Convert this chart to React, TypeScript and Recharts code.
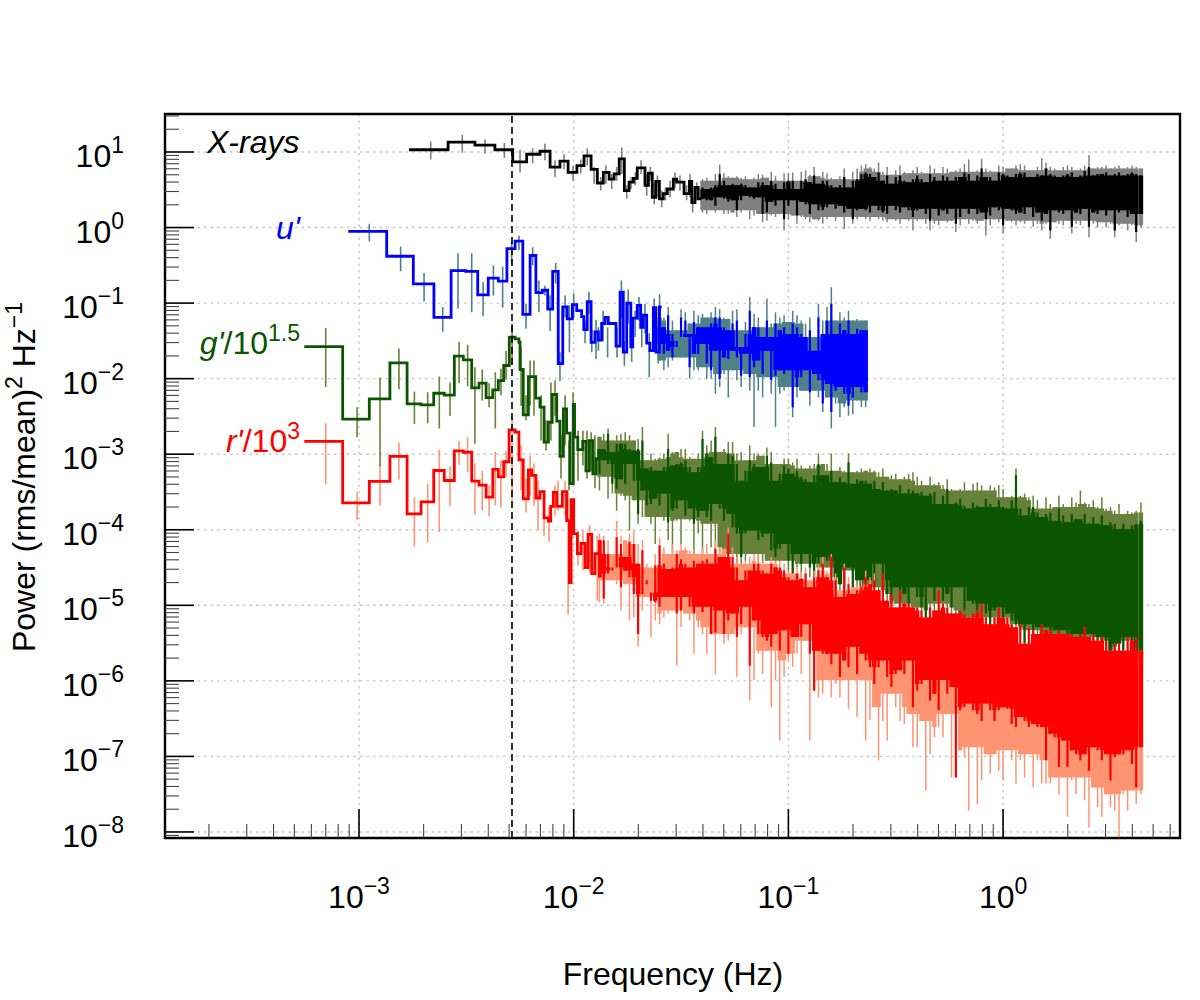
import React from 'react';
import { ComposedChart, XAxis, YAxis, Line, CartesianGrid, ReferenceLine, ReferenceArea } from 'recharts';

// All values below are log10(frequency / Hz) and log10(power).
const xDomainLog = [-3.9036, 0.824];
const yDomainLog = [-8.08, 1.503];
const xMajor = [-3, -2, -1, 0];
const yMajor = [1, 0, -1, -2, -3, -4, -5, -6, -7, -8];
const minorFactors = [2, 3, 4, 5, 6, 7, 8, 9];
const xDecades = [-4, -3, -2, -1, 0];
const yDecades = [1, 0, -1, -2, -3, -4, -5, -6, -7, -8, -9];
const markerLogF = -2.2874;

const gridF = [-1.88,-1.86,-1.84,-1.82,-1.80,-1.78,-1.76,-1.74,-1.72,-1.70,-1.68,-1.66,-1.64,-1.62,-1.60,-1.58,-1.56,-1.54,-1.52,-1.50,-1.48,-1.46,-1.44,-1.42,-1.40,-1.38,-1.36,-1.34,-1.32,-1.30,-1.28,-1.26,-1.24,-1.22,-1.20,-1.18,-1.16,-1.14,-1.12,-1.10,-1.08,-1.06,-1.04,-1.02,-1.00,-0.98,-0.96,-0.94,-0.92,-0.90,-0.88,-0.86,-0.84,-0.82,-0.80,-0.78,-0.76,-0.74,-0.72,-0.70,-0.68,-0.66,-0.64,-0.62,-0.60,-0.58,-0.56,-0.54,-0.52,-0.50,-0.48,-0.46,-0.44,-0.42,-0.40,-0.38,-0.36,-0.34,-0.32,-0.30,-0.28,-0.26,-0.24,-0.22,-0.20,-0.18,-0.16,-0.14,-0.12,-0.10,-0.08,-0.06,-0.04,-0.02,0.00,0.02,0.04,0.06,0.08,0.10,0.12,0.14,0.16,0.18,0.20,0.22,0.24,0.26,0.28,0.30,0.32,0.34,0.36,0.38,0.40,0.42,0.44,0.46,0.48,0.50,0.52,0.54,0.56,0.58,0.60,0.62,0.642];

// X-rays
const xrayStepF = [-2.767,-2.585,-2.460,-2.367,-2.284,-2.219,-2.157,-2.110,-2.064,-2.026,-1.985,-1.952,-1.919,-1.890,-1.862,-1.835,-1.812,-1.788,-1.764,-1.742,-1.722,-1.704,-1.668,-1.652,-1.634,-1.618,-1.601,-1.583,-1.564,-1.536,-1.520,-1.486,-1.461,-1.450,-1.435,-1.420,-1.405];
const xrayStepP = [1.03,1.13,1.09,1.03,0.87,0.97,1.01,0.80,0.88,0.73,0.82,0.95,0.77,0.59,0.73,0.64,0.71,0.91,0.49,0.60,0.65,0.79,0.56,0.72,0.40,0.61,0.38,0.45,0.51,0.64,0.60,0.45,0.61,0.33,0.53,0.38,0.38];
const xrayErrF = [-2.666,-2.519,-2.413,-2.323,-2.250,-2.191,-2.134,-2.087,-2.045,-2.003,-1.967,-1.937,-1.905,-1.874,-1.850,-1.823,-1.800,-1.776,-1.753,-1.733,-1.713,-1.686,-1.660,-1.643,-1.625,-1.610,-1.590,-1.573,-1.551,-1.528,-1.505,-1.474,-1.458,-1.446,-1.427];
const xrayErrHi = [1.14,1.23,1.17,1.12,1.03,1.05,1.11,0.89,0.97,0.82,0.90,1.05,0.80,0.67,0.82,0.71,0.80,1.06,0.56,0.67,0.73,0.89,0.71,0.80,0.58,0.69,0.49,0.53,0.62,0.73,0.69,0.56,0.71,0.40,0.60];
const xrayErrLo = [0.90,0.99,0.98,0.92,0.73,0.85,0.89,0.67,0.77,0.62,0.72,0.82,0.58,0.49,0.58,0.51,0.62,0.71,0.38,0.51,0.56,0.71,0.42,0.62,0.31,0.40,0.27,0.36,0.40,0.53,0.49,0.36,0.40,0.20,0.36];
const xrayLineHi = [0.53,0.51,0.53,0.56,0.71,0.62,0.56,0.58,0.56,0.58,0.56,0.53,0.53,0.60,0.60,0.56,0.62,0.58,0.51,0.60,0.62,0.62,0.51,0.62,0.64,0.60,0.69,0.58,0.62,0.62,0.56,0.53,0.56,0.67,0.53,0.62,0.64,0.71,0.73,0.71,0.67,0.73,0.62,0.69,0.58,0.67,0.69,0.62,0.60,0.64,0.69,0.64,0.60,0.71,0.67,0.62,0.69,0.67,0.62,0.67,0.67,0.73,0.71,0.62,0.69,0.78,0.67,0.67,0.62,0.73,0.71,0.69,0.67,0.71,0.73,0.73,0.67,0.67,0.71,0.69,0.78,0.71,0.69,0.67,0.69,0.71,0.73,0.67,0.69,0.75,0.80,0.69,0.71,0.71,0.73,0.69,0.71,0.73,0.69,0.71,0.73,0.71,0.69];
const xrayDenseErrHi = [0.64,0.66,0.62,0.71,0.83,0.72,0.68,0.66,0.68,0.66,0.68,0.64,0.66,0.71,0.70,0.66,0.74,0.68,0.62,0.72,0.72,0.73,0.62,0.74,0.76,0.70,0.80,0.68,0.74,0.72,0.66,0.64,0.68,0.78,0.64,0.74,0.78,0.82,0.84,0.80,0.78,0.86,0.74,0.80,0.70,0.76,0.82,0.74,0.72,0.76,0.80,0.74,0.72,0.82,0.78,0.72,0.80,0.78,0.74,0.76,0.78,0.84,0.90,0.74,0.76,0.91,0.78,0.76,0.74,0.82,0.80,0.78,0.78,0.82,0.84,0.82,0.76,0.76,0.80,0.92,0.86,0.80,0.78,0.76,0.80,0.82,0.80,0.76,0.78,0.82,0.96,0.78,0.80,0.80,0.82,0.78,0.80,0.82,0.78,0.80,0.82,0.80,0.78];
const xrayLineLo = [0.38,0.36,0.36,0.29,0.40,0.38,0.34,0.36,0.23,0.36,0.42,0.40,0.38,0.40,0.18,0.20,0.34,0.29,0.36,0.11,0.29,0.36,0.16,0.34,0.31,0.18,0.31,0.23,0.23,0.27,0.31,0.25,0.29,0.20,0.25,0.11,0.23,0.25,0.23,0.20,0.29,0.23,0.20,0.18,0.29,0.23,0.20,0.27,0.23,0.14,0.23,0.25,0.18,0.09,0.25,0.16,0.23,0.18,0.25,0.05,0.14,0.25,0.18,0.25,0.18,0.20,0.11,0.16,0.27,0.23,0.03,0.25,0.23,0.18,0.20,0.18,0.27,0.14,0.20,0.09,0.18,-0.04,0.23,0.20,0.18,0.23,0.01,0.20,0.18,0.25,0.01,0.20,0.18,0.23,0.16,0.23,-0.04,0.20,0.23,0.14,0.18,-0.06,0.18];
const xrayDenseErrLo = [0.20,0.18,0.23,0.20,0.23,0.18,0.18,0.20,0.14,0.20,0.23,0.11,0.16,0.18,0.07,0.09,0.16,0.14,0.18,-0.04,0.11,0.16,0.05,0.14,0.11,0.07,0.11,0.09,0.05,0.11,0.14,0.09,0.14,-0.02,0.14,0.05,0.11,0.14,0.11,0.09,0.14,0.11,0.09,0.07,0.11,0.09,0.05,0.11,0.09,-0.04,0.09,0.11,0.05,-0.04,0.05,0.03,0.09,0.07,0.09,-0.06,0.03,0.11,0.05,0.09,0.05,0.09,-0.11,0.03,0.11,0.07,-0.08,0.09,0.07,0.03,0.07,0.05,0.09,0.01,0.05,-0.04,0.05,-0.15,0.07,0.05,0.03,0.09,-0.08,0.05,0.03,0.09,-0.13,0.05,0.00,0.07,0.00,0.05,-0.13,0.03,0.05,-0.04,0.03,-0.19,0.00];

// u'
const uStepF = [-3.050,-2.871,-2.747,-2.651,-2.571,-2.503,-2.447,-2.398,-2.351,-2.311,-2.273,-2.237,-2.203,-2.176,-2.146,-2.121,-2.098,-2.072,-2.051,-2.030,-2.006,-1.986,-1.963,-1.953,-1.937,-1.919,-1.901,-1.885,-1.870,-1.854,-1.839,-1.803,-1.784,-1.769,-1.753,-1.734,-1.725,-1.704,-1.688,-1.676,-1.660,-1.645,-1.629,-1.617,-1.601,-1.590];
const uStepP = [-0.05,-0.38,-0.745,-1.19,-0.57,-0.58,-0.89,-0.67,-0.71,-0.28,-0.18,-1.15,-0.37,-0.86,-0.83,-1.08,-0.58,-1.80,-1.05,-1.21,-1.02,-1.10,-1.18,-1.35,-0.98,-1.52,-1.38,-1.49,-1.27,-1.19,-1.27,-1.57,-0.855,-1.65,-1.00,-1.58,-1.20,-1.03,-1.32,-1.16,-1.53,-1.63,-1.06,-1.65,-1.05,-1.05];
const uErrF = [-2.952,-2.806,-2.697,-2.610,-2.539,-2.475,-2.422,-2.374,-2.331,-2.289,-2.255,-2.222,-2.191,-2.162,-2.134,-2.110,-2.084,-2.064,-2.040,-2.020,-2.000,-1.947,-1.929,-1.916,-1.896,-1.885,-1.863,-1.842,-1.798,-1.778,-1.764,-1.746,-1.730,-1.714,-1.696,-1.683,-1.668,-1.648,-1.625,-1.606];
const uErrHi = [0.05,-0.25,-0.60,-1.05,-0.34,-0.34,-0.72,-0.50,-0.52,-0.19,-0.11,-1.01,-0.26,-0.70,-0.77,-0.90,-0.47,-1.65,-0.90,-1.03,-0.87,-1.23,-0.85,-1.36,-1.22,-1.32,-1.10,-1.32,-1.32,-0.70,-1.50,-0.82,-1.36,-1.10,-0.92,-1.14,-1.01,-1.40,-0.94,-1.50];
const uErrLo = [-0.18,-0.58,-0.98,-1.38,-1.07,-1.12,-1.17,-0.90,-1.06,-0.48,-0.30,-1.34,-0.50,-1.12,-0.90,-1.37,-0.74,-2.03,-1.19,-1.65,-1.19,-1.53,-1.14,-1.65,-1.74,-1.63,-1.50,-1.72,-1.72,-1.19,-1.83,-1.27,-1.78,-1.45,-1.23,-1.58,-1.40,-1.98,-1.32,-1.80];
const uLineHi = [-1.05,-1.32,-1.16,-1.41,-1.50,-1.19,-1.23,-1.41,-1.25,-1.32,-1.32,-1.32,-1.27,-1.19,-1.19,-1.32,-1.36,-1.27,-1.23,-1.58,-1.41,-1.10,-1.32,-1.32,-1.45,-1.23,-1.45,-1.27,-1.36,-1.32,-1.41,-1.27,-1.32,-1.41,-1.45,-1.36,-1.63,-1.19,-1.41,-1.23,-1.01,-1.41,-1.27,-1.36,-1.23,-1.41,-1.34,-1.36,-1.36];
const uLineLo = [-1.54,-1.67,-1.63,-1.72,-1.58,-1.45,-1.45,-1.85,-1.67,-1.67,-1.54,-1.80,-1.89,-1.63,-2.00,-1.72,-1.74,-1.63,-1.72,-1.96,-1.67,-1.98,-1.85,-1.76,-1.94,-1.63,-2.02,-1.96,-1.89,-1.94,-1.89,-2.38,-2.11,-1.98,-1.89,-2.18,-1.94,-2.02,-2.33,-2.07,-2.44,-2.16,-2.11,-2.20,-2.36,-2.25,-2.11,-2.18,-2.18];
const uDenseErrHi = [-0.88,-1.19,-1.05,-1.23,-1.36,-1.08,-1.12,-1.27,-1.10,-1.16,-1.14,-1.19,-1.12,-1.05,-1.08,-1.19,-1.21,-1.10,-1.08,-1.36,-1.25,-0.92,-1.14,-1.19,-1.32,-0.94,-1.27,-1.12,-1.19,-1.16,-1.25,-1.10,-1.16,-1.23,-1.27,-1.19,-1.45,-1.01,-1.23,-1.05,-0.79,-1.23,-1.12,-1.19,-1.10,-1.23,-1.21,-1.23,-1.23];
const uDenseErrLo = [-1.76,-1.89,-1.85,-1.76,-1.72,-1.72,-1.72,-2.00,-1.89,-1.89,-1.85,-2.00,-2.00,-2.20,-2.11,-1.94,-2.25,-1.89,-2.02,-2.11,-1.94,-2.16,-2.64,-2.16,-2.25,-1.98,-2.20,-2.64,-2.20,-2.16,-2.11,-2.51,-2.25,-2.16,-2.16,-2.36,-2.16,-2.25,-2.44,-2.25,-2.66,-2.33,-2.51,-2.38,-2.49,-2.47,-2.29,-2.38,-2.38];

// g'/10^1.5
const gStepF = [-3.255,-3.076,-2.952,-2.856,-2.776,-2.711,-2.652,-2.603,-2.556,-2.514,-2.475,-2.441,-2.408,-2.377,-2.351,-2.326,-2.300,-2.273,-2.255,-2.250,-2.235,-2.211,-2.177,-2.157,-2.138,-2.118,-2.100,-2.079,-2.064,-2.048,-2.033,-2.017,-2.002,-1.996,-1.981,-1.958,-1.943,-1.927,-1.911,-1.896,-1.880];
const gStepP = [-1.575,-2.537,-2.267,-1.79,-2.333,-2.346,-2.193,-2.219,-1.703,-1.751,-2.121,-2.06,-2.25,-2.148,-2.025,-1.826,-1.452,-1.473,-1.518,-1.879,-2.479,-1.972,-2.259,-2.378,-2.841,-2.577,-2.21,-2.563,-3.03,-2.40,-2.72,-3.39,-2.34,-2.775,-2.94,-2.83,-3.22,-2.82,-3.26,-3.06,-3.06];
const gErrF = [-3.155,-3.009,-2.902,-2.814,-2.742,-2.680,-2.626,-2.576,-2.534,-2.494,-2.460,-2.426,-2.394,-2.365,-2.339,-2.315,-2.287,-2.245,-2.222,-2.203,-2.185,-2.152,-2.129,-2.106,-2.087,-2.059,-2.040,-2.022,-2.003,-1.980,-1.957,-1.938,-1.919,-1.901];
const gErrHi = [-1.33,-2.38,-1.985,-1.60,-2.17,-2.18,-1.97,-2.05,-1.51,-1.55,-1.85,-1.88,-2.06,-1.915,-1.87,-1.63,-1.27,-1.58,-2.22,-1.76,-1.76,-2.22,-2.55,-2.05,-2.02,-2.75,-2.22,-2.82,-2.18,-2.69,-2.69,-2.69,-2.71,-2.75];
const gErrLo = [-2.11,-2.775,-3.17,-2.14,-2.60,-2.59,-2.66,-2.49,-2.06,-2.10,-2.86,-2.29,-2.38,-2.66,-2.22,-2.01,-1.80,-2.36,-2.55,-2.36,-2.49,-2.82,-2.95,-2.82,-2.49,-3.32,-2.88,-3.48,-2.62,-3.35,-3.15,-3.32,-3.22,-3.45];
const gLineHi = [-2.93,-2.93,-2.73,-2.97,-2.86,-2.86,-2.86,-2.93,-2.95,-2.93,-2.82,-3.19,-3.17,-3.22,-3.22,-3.17,-2.93,-3.15,-3.13,-3.11,-3.08,-3.17,-3.24,-3.17,-2.80,-2.99,-3.04,-2.77,-3.13,-3.13,-2.99,-3.02,-3.13,-3.35,-3.22,-3.08,-3.13,-3.17,-3.17,-3.02,-3.11,-3.35,-3.26,-3.15,-3.19,-3.26,-3.22,-3.30,-3.33,-3.37,-3.28,-3.13,-3.28,-3.28,-3.22,-3.37,-3.30,-3.37,-3.11,-3.39,-3.33,-3.35,-3.35,-3.39,-3.35,-3.46,-3.37,-3.48,-3.46,-3.48,-3.41,-3.52,-3.46,-3.48,-3.52,-3.50,-3.55,-3.52,-3.50,-3.66,-3.55,-3.46,-3.66,-3.64,-3.59,-3.68,-3.72,-3.64,-3.68,-3.70,-3.59,-3.66,-3.70,-3.61,-3.70,-3.72,-3.61,-3.28,-3.72,-3.81,-3.70,-3.70,-3.77,-3.83,-3.79,-3.77,-3.88,-3.72,-3.81,-3.90,-3.79,-3.86,-3.86,-3.79,-3.92,-3.83,-3.92,-3.81,-3.94,-3.90,-3.92,-3.99,-3.92,-3.99,-3.94,-3.92,-3.88];
const gLineLo = [-3.26,-3.08,-3.13,-3.39,-3.46,-3.33,-3.39,-3.13,-3.35,-3.79,-3.48,-3.68,-3.66,-3.59,-3.68,-3.52,-3.90,-3.75,-3.72,-3.61,-3.81,-3.72,-3.92,-3.83,-3.75,-3.83,-3.88,-3.66,-3.72,-3.88,-3.79,-3.97,-4.05,-4.36,-4.05,-4.01,-4.01,-4.14,-4.10,-4.05,-4.27,-4.36,-4.25,-4.19,-4.41,-5.16,-4.32,-4.45,-4.32,-4.50,-4.63,-4.45,-4.36,-4.41,-4.63,-4.80,-4.72,-4.76,-4.50,-4.85,-4.67,-4.85,-4.76,-4.67,-4.76,-4.45,-4.67,-4.85,-4.98,-4.76,-4.94,-4.85,-4.98,-4.76,-4.89,-5.03,-5.16,-4.76,-4.94,-4.76,-4.94,-4.85,-5.03,-4.76,-4.76,-5.07,-4.94,-4.98,-5.20,-4.98,-5.11,-5.25,-5.07,-5.03,-5.20,-5.11,-5.20,-5.25,-5.33,-5.51,-5.25,-5.38,-5.29,-5.64,-5.29,-5.38,-5.33,-5.42,-5.33,-5.42,-5.40,-5.38,-5.62,-5.69,-5.38,-5.73,-5.82,-5.42,-5.82,-5.60,-5.64,-5.51,-5.73,-5.42,-5.73,-5.73,-5.78];
const gDenseErrHi = [-2.77,-2.73,-2.66,-2.82,-2.75,-2.73,-2.71,-2.75,-2.82,-2.80,-2.64,-3.08,-2.99,-3.06,-3.04,-2.99,-2.73,-2.97,-2.97,-2.93,-2.93,-3.04,-3.06,-2.99,-2.69,-2.88,-2.82,-2.64,-2.97,-2.93,-2.84,-2.84,-2.99,-2.97,-3.08,-2.88,-2.99,-2.99,-3.02,-2.91,-2.97,-3.13,-3.13,-3.06,-3.06,-3.11,-3.06,-3.15,-3.19,-3.15,-3.13,-2.99,-3.13,-3.13,-2.99,-3.22,-3.17,-3.22,-2.99,-3.24,-3.22,-3.19,-3.22,-3.19,-3.22,-3.24,-3.19,-3.30,-3.28,-3.26,-3.33,-3.30,-3.26,-3.24,-3.30,-3.35,-3.41,-3.30,-3.39,-3.37,-3.41,-3.33,-3.46,-3.48,-3.46,-3.37,-3.48,-3.39,-3.37,-3.41,-3.48,-3.41,-3.44,-3.41,-3.46,-3.57,-3.55,-3.19,-3.55,-3.52,-3.57,-3.55,-3.61,-3.72,-3.57,-3.66,-3.70,-3.55,-3.66,-3.70,-3.57,-3.64,-3.48,-3.64,-3.66,-3.61,-3.70,-3.57,-3.72,-3.70,-3.75,-3.66,-3.79,-3.75,-3.77,-3.75,-3.64];
const gDenseErrLo = [-3.48,-3.30,-3.59,-3.52,-3.75,-3.55,-3.61,-4.01,-3.61,-3.92,-3.83,-3.83,-3.92,-4.19,-3.83,-3.88,-4.14,-4.30,-3.88,-4.19,-3.86,-3.88,-4.41,-4.05,-4.36,-3.92,-4.23,-4.45,-4.41,-4.41,-4.32,-4.41,-4.54,-4.76,-4.41,-4.32,-4.32,-4.45,-4.45,-4.41,-4.41,-4.50,-4.41,-4.41,-4.58,-5.16,-4.50,-4.63,-4.45,-4.63,-4.76,-4.67,-4.50,-4.50,-4.76,-4.94,-4.80,-4.80,-4.54,-4.89,-4.76,-4.89,-4.80,-4.76,-4.80,-4.85,-4.94,-4.98,-5.07,-4.98,-4.98,-5.03,-5.03,-5.03,-5.07,-5.11,-5.20,-5.07,-5.07,-4.98,-5.03,-5.07,-5.16,-5.16,-5.16,-5.20,-5.20,-5.16,-5.25,-5.16,-5.25,-5.29,-5.20,-5.16,-5.25,-5.25,-5.29,-5.33,-5.38,-5.55,-5.33,-5.42,-5.42,-5.69,-5.38,-5.42,-5.42,-5.42,-5.42,-5.42,-5.42,-5.47,-5.64,-5.73,-5.42,-5.73,-5.86,-5.47,-5.86,-5.64,-5.69,-5.55,-5.78,-5.47,-5.78,-5.78,-5.82];

// r'/10^3
const rStepF = [-3.255,-3.076,-2.952,-2.856,-2.776,-2.711,-2.652,-2.603,-2.556,-2.514,-2.475,-2.441,-2.408,-2.377,-2.351,-2.326,-2.301,-2.273,-2.255,-2.235,-2.211,-2.196,-2.176,-2.157,-2.138,-2.118,-2.107,-2.095,-2.079,-2.053,-2.033,-2.020,-2.012,-2.000,-1.983,-1.966,-1.947,-1.933,-1.916,-1.901,-1.880];
const rStepP = [-2.83,-3.643,-3.36,-3.03,-3.789,-3.63,-3.216,-3.348,-2.955,-2.974,-3.357,-3.41,-3.569,-3.20,-3.30,-3.10,-2.677,-2.709,-3.074,-3.59,-3.207,-3.28,-3.58,-3.494,-3.842,-3.887,-3.69,-3.507,-3.69,-3.494,-3.878,-4.70,-3.60,-4.05,-4.315,-4.18,-4.50,-4.06,-4.58,-4.315,-4.315];
const rErrF = [-3.155,-3.009,-2.902,-2.814,-2.742,-2.680,-2.626,-2.576,-2.534,-2.494,-2.460,-2.426,-2.394,-2.365,-2.339,-2.315,-2.287,-2.245,-2.222,-2.203,-2.185,-2.166,-2.138,-2.115,-2.087,-2.073,-2.040,-2.026,-1.980,-1.957,-1.925,-1.890];
const rErrHi = [-2.59,-3.50,-3.18,-2.845,-3.57,-3.39,-2.94,-3.16,-2.83,-2.78,-3.12,-3.22,-3.415,-2.97,-3.08,-2.96,-2.51,-2.885,-3.32,-3.02,-3.12,-3.35,-3.48,-3.70,-3.415,-3.35,-3.35,-3.48,-4.01,-4.01,-3.94,-4.08];
const rErrLo = [-3.40,-3.87,-3.68,-3.335,-4.22,-4.17,-4.03,-3.69,-3.14,-3.24,-3.80,-3.745,-3.82,-3.68,-3.705,-3.30,-3.61,-3.48,-3.77,-3.55,-3.68,-4.01,-4.08,-4.16,-3.81,-3.745,-3.81,-5.12,-4.47,-4.54,-4.57,-4.94];
const rLineHi = [-4.14,-4.14,-4.32,-4.50,-4.10,-4.19,-4.36,-4.16,-4.19,-4.45,-4.27,-4.72,-4.83,-4.47,-4.21,-4.45,-4.52,-4.50,-4.32,-4.39,-4.45,-4.50,-4.41,-4.45,-4.41,-4.39,-4.45,-4.25,-4.36,-4.36,-4.05,-4.36,-4.50,-4.67,-4.54,-4.54,-4.45,-4.45,-4.54,-4.58,-4.45,-4.50,-4.50,-4.54,-4.63,-4.67,-4.58,-4.65,-4.58,-4.76,-4.63,-4.54,-4.45,-4.63,-4.36,-4.67,-4.89,-4.50,-4.72,-4.85,-4.80,-4.76,-4.63,-4.72,-4.67,-4.80,-4.58,-4.94,-4.85,-5.03,-4.80,-4.98,-4.98,-5.03,-5.03,-5.07,-5.16,-5.03,-5.07,-4.80,-4.98,-5.03,-5.11,-5.11,-5.07,-5.11,-5.16,-5.11,-5.07,-4.98,-5.16,-5.25,-5.16,-5.03,-5.16,-5.16,-5.25,-5.29,-5.25,-5.51,-5.29,-5.33,-5.38,-5.25,-5.33,-5.33,-5.38,-5.33,-5.38,-5.38,-5.38,-5.42,-5.38,-5.29,-5.42,-5.38,-5.47,-5.42,-5.47,-5.60,-5.51,-5.51,-5.60,-5.42,-5.47,-5.42,-5.60];
const rLineLo = [-4.63,-4.91,-4.58,-4.54,-4.50,-4.76,-4.54,-4.63,-4.85,-5.38,-4.85,-4.67,-4.94,-4.96,-5.02,-4.89,-4.89,-4.89,-5.11,-5.07,-4.89,-5.02,-5.11,-5.02,-5.09,-5.02,-5.38,-5.36,-5.07,-5.38,-5.20,-5.11,-5.42,-5.25,-5.02,-5.80,-5.20,-5.38,-5.42,-5.47,-5.55,-5.38,-5.60,-5.33,-5.64,-5.42,-5.42,-5.42,-5.25,-5.64,-6.13,-5.60,-5.64,-5.64,-5.78,-5.64,-5.95,-5.73,-5.82,-5.55,-5.91,-5.64,-5.73,-5.82,-6.04,-5.82,-5.73,-5.95,-6.08,-5.91,-5.86,-5.91,-5.73,-6.35,-6.13,-6.04,-5.99,-6.26,-6.17,-6.39,-5.99,-6.17,-6.08,-7.28,-6.39,-6.35,-6.30,-6.39,-6.44,-6.53,-6.30,-6.39,-6.53,-6.39,-6.35,-6.37,-6.57,-6.61,-6.48,-6.53,-6.61,-6.57,-6.61,-6.61,-7.05,-6.70,-6.75,-7.14,-6.79,-7.14,-6.92,-6.97,-7.05,-6.97,-7.19,-6.88,-6.92,-7.05,-6.97,-7.32,-7.01,-6.97,-6.97,-6.92,-7.10,-7.41,-6.88];
const rDenseErrHiLeft = [-4.05,-4.08,-4.14,-4.32,-3.88,-4.08,-4.14,-4.05,-4.01,-4.19,-4.14,-4.45,-4.50,-4.32,-4.10,-4.23,-4.32,-4.19,-4.27,-4.19,-4.23,-4.27,-4.25,-4.32,-4.23,-4.19,-4.32,-4.14,-4.23,-4.25,-3.97,-4.23,-4.36,-4.45,-4.41,-4.36,-4.32,-4.32,-4.41,-4.45,-4.36,-4.41,-4.41,-4.45,-4.54,-4.58,-4.50,-4.56,-4.50,-4.67,-4.54,-4.45,-4.36,-4.54,-4.32,-4.58,-4.80,-4.45,-4.63,-4.76,-4.72,-4.67,-4.54,-4.63,-4.58];
const rDenseErrLo = [-4.96,-4.98,-4.67,-4.67,-4.72,-5.07,-4.72,-5.20,-5.16,-5.55,-5.07,-4.89,-5.42,-5.20,-5.25,-5.16,-5.11,-5.07,-5.80,-5.29,-5.11,-5.20,-5.64,-5.29,-5.38,-5.64,-5.38,-5.91,-5.38,-5.51,-5.47,-5.38,-5.95,-5.38,-5.29,-6.26,-5.99,-5.64,-5.91,-5.60,-6.35,-5.99,-6.79,-5.95,-5.73,-5.82,-5.64,-5.91,-5.47,-6.79,-6.13,-6.22,-6.17,-5.99,-6.22,-6.04,-6.22,-5.99,-6.37,-5.99,-6.48,-5.99,-6.79,-6.52,-6.35,-7.05,-6.53,-6.79,-6.17,-6.35,-6.53,-6.57,-6.44,-6.88,-6.88,-6.53,-7.45,-6.97,-6.75,-6.61,-6.75,-6.44,-7.28,-7.28,-6.92,-7.01,-7.72,-6.88,-7.63,-7.32,-6.97,-7.23,-6.97,-7.19,-7.32,-6.92,-7.05,-7.36,-7.05,-7.28,-6.97,-7.41,-7.05,-7.36,-7.36,-7.36,-7.28,-7.50,-7.28,-7.80,-7.32,-7.50,-7.28,-7.58,-7.94,-7.41,-7.67,-7.80,-7.50,-7.67,-7.72,-8.07,-7.50,-7.72,-7.45,-7.63,-7.50];

const toSteps = (fs: number[], ps: number[]) => fs.map((f, i) => ({ f: 10 ** f, p: 10 ** ps[Math.min(i, ps.length - 1)] }));
const toErrs = (fs: number[], hi: number[], lo: number[]) => {
  const n = Math.min(fs.length, hi.length, lo.length);
  return fs.slice(0, n).flatMap((f, i) => [
    { f: 10 ** f, p: 10 ** hi[i] },
    { f: 10 ** f, p: 10 ** lo[i] },
    { f: 10 ** f, p: null },
  ]);
};
// the solid part of a dense band: what each sample shares with its neighbours
const toBody = (fs: number[], hi: number[], lo: number[], reach: number) => {
  const n = Math.min(fs.length, hi.length, lo.length);
  const around = (a: number[], i: number) => a.slice(Math.max(0, i - reach), Math.min(n, i + reach + 1));
  const tops = fs.slice(0, n).map((_, i) => Math.min(...around(hi, i)));
  const bots = fs.slice(0, n).map((_, i) => Math.max(...around(lo, i)));
  return toErrs(fs.slice(0, n), tops, bots.map((b, i) => Math.min(b, tops[i])));
};
const xrayF = gridF.slice(24);
const uF = gridF.slice(14, 63);
const rDenseErrHi = [...rDenseErrHiLeft, ...rLineHi.slice(rDenseErrHiLeft.length)];

const xTicks = xDecades.flatMap((d) => [...(d > -4 ? [10 ** d] : []), ...minorFactors.map((m) => m * 10 ** d)])
  .filter((v) => v >= 10 ** xDomainLog[0] && v <= 10 ** xDomainLog[1]);
const yTicks = yDecades.flatMap((d) => [10 ** d, ...minorFactors.map((m) => m * 10 ** d)])
  .filter((v) => v >= 10 ** yDomainLog[0] && v <= 10 ** yDomainLog[1]);
const exponentOf = (v: number) => {
  const e = Math.log10(v);
  return Math.abs(e - Math.round(e)) < 1e-6 ? Math.round(e) : null;
};
const expText = (e: number) => (e < 0 ? '\u2212' + Math.abs(e) : String(e));

const FONT = '"Liberation Sans", Arial, sans-serif';
const BIG = 32;
const SUP = 23;
const TICK_MAJOR = 29;
const TICK_MINOR = 14;

const XTick = ({ x, y, payload }: any) => {
  const e = exponentOf(payload.value);
  const major = e !== null && xMajor.includes(e);
  return (
    <g>
      <line x1={x} x2={x} y1={y} y2={y - (major ? TICK_MAJOR : TICK_MINOR)} stroke={major ? '#000' : '#444'} strokeWidth={major ? 1.6 : 1.1} />
      {major && (
        <text x={x} y={y + 70} textAnchor="middle" fontFamily={FONT} fontSize={BIG} fill="#000">
          10<tspan dy={-14} fontSize={SUP}>{expText(e as number)}</tspan>
        </text>
      )}
    </g>
  );
};
const YTick = ({ x, y, payload }: any) => {
  const e = exponentOf(payload.value);
  const major = e !== null && yMajor.includes(e);
  return (
    <g>
      <line x1={x} x2={x + (major ? TICK_MAJOR : TICK_MINOR)} y1={y} y2={y} stroke={major ? '#000' : '#444'} strokeWidth={major ? 1.6 : 1.1} />
      {major && (
        <text x={x - 41} y={y + 15} textAnchor="end" fontFamily={FONT} fontSize={BIG} fill="#000">
          10<tspan dy={-14} fontSize={SUP}>{expText(e as number)}</tspan>
        </text>
      )}
    </g>
  );
};

const line = { dataKey: 'p', type: 'linear' as const, dot: false, activeDot: false, isAnimationActive: false, legendType: 'none' as const };

const C = {
  black: '#000000', blackErr: '#808080',
  blue: '#0000ff', blueErr: '#4f8288',
  green: '#0c5500', greenErr: '#67813a',
  red: '#ff0000', redErr: '#ff9472',
};

const Dense = (fs: number[], errHi: number[], errLo: number[], hi: number[], lo: number[], errColor: string, color: string, key: string) => [
  <Line key={key + 'b1'} {...line} data={toBody(fs, errHi, errLo, 2)} stroke={errColor} strokeWidth={4.4} />,
  <Line key={key + 's1'} {...line} data={toErrs(fs, errHi, errLo)} stroke={errColor} strokeWidth={1.5} />,
  <Line key={key + 'b2'} {...line} data={toBody(fs, hi, lo, 1)} stroke={color} strokeWidth={4.4} />,
  <Line key={key + 's2'} {...line} data={toErrs(fs, hi, lo)} stroke={color} strokeWidth={2.2} />,
];

export default function App() {
  return (
    <div style={{ position: 'absolute', left: 0, top: 0, width: 1200, height: 1000, background: '#fff' }}>
      <ComposedChart width={1200} height={1000} margin={{ top: 114, right: 20, bottom: 0, left: 0 }} style={{ fontFamily: FONT }}>
        <XAxis dataKey="f" type="number" scale="log" domain={[10 ** xDomainLog[0], 10 ** xDomainLog[1]]} allowDataOverflow
          ticks={xTicks} interval={0} height={162} axisLine={false} tickLine={false} tickSize={0} tickMargin={0} tick={<XTick />} />
        <YAxis dataKey="p" type="number" scale="log" domain={[10 ** yDomainLog[0], 10 ** yDomainLog[1]]} allowDataOverflow
          ticks={yTicks} interval={0} width={165} axisLine={false} tickLine={false} tickSize={0} tickMargin={0} tick={<YTick />} />

        <CartesianGrid stroke="#c6c6c6" strokeWidth={1.4} strokeDasharray="2.5 4"
          verticalValues={xMajor.map((e) => 10 ** e)} horizontalValues={yMajor.map((e) => 10 ** e)} />

        {Dense(xrayF, xrayDenseErrHi, xrayDenseErrLo, xrayLineHi, xrayLineLo, C.blackErr, C.black, 'x')}
        <Line {...line} data={toErrs(xrayErrF, xrayErrHi, xrayErrLo)} stroke={C.blackErr} strokeWidth={1.6} />
        <Line {...line} type="stepAfter" data={toSteps(xrayStepF, xrayStepP)} stroke={C.black} strokeWidth={2.8} />

        {Dense(uF, uDenseErrHi, uDenseErrLo, uLineHi, uLineLo, C.blueErr, C.blue, 'u')}
        <Line {...line} data={toErrs(uErrF, uErrHi, uErrLo)} stroke={C.blueErr} strokeWidth={1.6} />
        <Line {...line} type="stepAfter" data={toSteps(uStepF, uStepP)} stroke={C.blue} strokeWidth={2.8} />

        {Dense(gridF, gDenseErrHi, gDenseErrLo, gLineHi, gLineLo, C.greenErr, C.green, 'g')}
        <Line {...line} data={toErrs(gErrF, gErrHi, gErrLo)} stroke={C.greenErr} strokeWidth={1.6} />
        <Line {...line} type="stepAfter" data={toSteps(gStepF, gStepP)} stroke={C.green} strokeWidth={2.8} />

        {Dense(gridF, rDenseErrHi, rDenseErrLo, rLineHi, rLineLo, C.redErr, C.red, 'r')}
        <Line {...line} data={toErrs(rErrF, rErrHi, rErrLo)} stroke={C.redErr} strokeWidth={1.6} />
        <Line {...line} type="stepAfter" data={toSteps(rStepF, rStepP)} stroke={C.red} strokeWidth={2.8} />

        <ReferenceLine x={10 ** markerLogF} stroke="#000" strokeWidth={1.6} strokeDasharray="7 4" />
        <ReferenceArea x1={10 ** xDomainLog[0]} x2={10 ** xDomainLog[1]} y1={10 ** yDomainLog[0]} y2={10 ** yDomainLog[1]} fill="none" fillOpacity={0} stroke="#000" strokeWidth={2.4} />

        <text x={207} y={153} fontFamily={FONT} fontSize={BIG} fontStyle="italic" fill="#000">X-rays</text>
        <text x={276} y={239} fontFamily={FONT} fontSize={BIG} fontStyle="italic" fill={C.blue}>u'</text>
        <text x={300} y={354} textAnchor="end" fontFamily={FONT} fontSize={BIG} fill={C.green}>
          <tspan fontStyle="italic">g'</tspan>/10<tspan dy={-13} fontSize={SUP}>1.5</tspan>
        </text>
        <text x={300} y={452} textAnchor="end" fontFamily={FONT} fontSize={BIG} fill={C.red}>
          <tspan fontStyle="italic">r'</tspan>/10<tspan dy={-13} fontSize={SUP}>3</tspan>
        </text>
        <text x={673} y={985} textAnchor="middle" fontFamily={FONT} fontSize={BIG} fill="#000">Frequency (Hz)</text>
        <text transform="translate(35,477) rotate(-90)" textAnchor="middle" fontFamily={FONT} fontSize={BIG} fill="#000">
          Power (rms/mean)<tspan dy={-13} fontSize={SUP}>2</tspan><tspan dy={13}> Hz</tspan><tspan dy={-13} fontSize={SUP}>{'\u22121'}</tspan>
        </text>
      </ComposedChart>
    </div>
  );
}
